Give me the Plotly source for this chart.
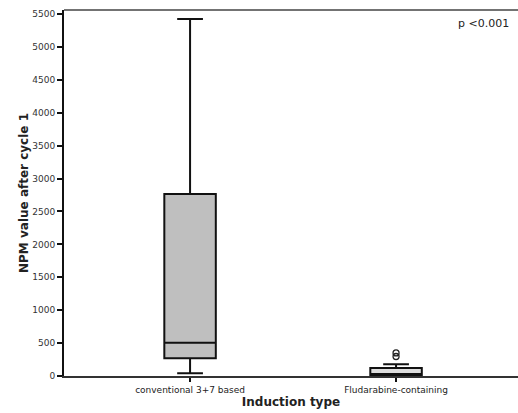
import plotly.graph_objects as go

# Induction groups and box-plot summary statistics (NPM values after cycle 1)
groups = ["conventional 3+7 based", "Fludarabine-containing"]
q1 = [270, 15]
median = [505, 15]
q3 = [2765, 120]
lower_whisker = [40, 0]
upper_whisker = [5425, 178]
box_fill = ["#bfbfbf", "#dedede"]

# Outlying observations in the Fludarabine group
outlier_group = ["Fludarabine-containing", "Fludarabine-containing"]
outlier_values = [296, 350]

y_ticks = list(range(0, 5501, 500))

fig = go.Figure()

for i, g in enumerate(groups):
    fig.add_trace(go.Box(
        x=[g],
        q1=[q1[i]],
        median=[median[i]],
        q3=[q3[i]],
        lowerfence=[lower_whisker[i]],
        upperfence=[upper_whisker[i]],
        width=0.25,
        whiskerwidth=0.5,
        fillcolor=box_fill[i],
        line=dict(color="#111111", width=2),
        boxpoints=False,
        hoverinfo="skip",
        showlegend=False,
    ))

fig.add_trace(go.Scatter(
    x=outlier_group,
    y=outlier_values,
    mode="markers",
    marker=dict(symbol="circle-open", size=6, color="#222222", line=dict(width=1.3)),
    showlegend=False,
    hoverinfo="skip",
))

fig.add_annotation(
    text="p <0.001", xref="paper", yref="paper", x=0.985, y=0.985,
    xanchor="right", yanchor="top", showarrow=False,
    font=dict(family="DejaVu Sans", size=11, color="#222222"),
)

fig.update_layout(
    width=518, height=413,
    margin=dict(l=64, r=0, t=10, b=37),
    paper_bgcolor="white", plot_bgcolor="white",
    font=dict(family="DejaVu Sans", color="#222222"),
    xaxis=dict(
        type="category",
        categoryorder="array", categoryarray=groups,
        range=[-0.612, 1.592],
        showgrid=False, zeroline=False,
        showline=True, linecolor="#333333", linewidth=1.5,
        mirror=False,
        ticks="outside", ticklen=4, tickcolor="#111111", tickwidth=1.5,
        tickfont=dict(size=9, color="#222222"),
        title=dict(text="<b>Induction type</b>", font=dict(size=12, color="#222222"), standoff=3),
    ),
    yaxis=dict(
        range=[0, 5560],
        tickvals=y_ticks,
        showgrid=False, zeroline=False,
        showline=True, linecolor="#111111", linewidth=2,
        ticks="outside", ticklen=5, tickcolor="#111111", tickwidth=1.5,
        tickfont=dict(size=9, color="#333333"),
        title=dict(text="<b>NPM value after cycle 1</b>", font=dict(size=12, color="#222222"), standoff=1),
    ),
)

# Top frame line of the plotting area
fig.add_shape(type="line", xref="paper", yref="paper", x0=0, x1=1, y0=1, y1=1,
              line=dict(color="#444444", width=1.5))

fig.write_html("out.html")
